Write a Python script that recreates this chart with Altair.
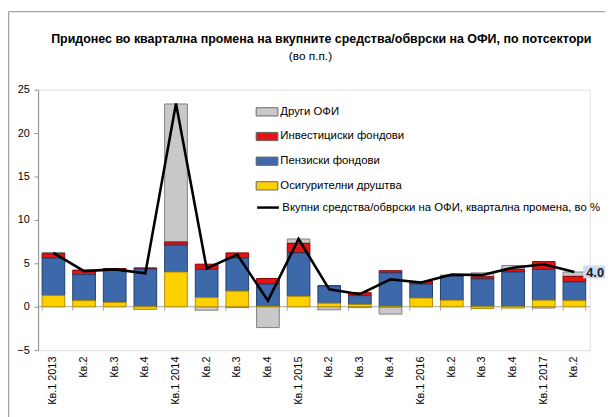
import altair as alt
import pandas as pd

quarters = ["Кв.1 2013", "Кв.2 ", "Кв.3 ", "Кв.4 ",
            "Кв.1 2014", "Кв.2  ", "Кв.3  ", "Кв.4  ",
            "Кв.1 2015", "Кв.2   ", "Кв.3   ", "Кв.4   ",
            "Кв.1 2016", "Кв.2    ", "Кв.3    ", "Кв.4    ",
            "Кв.1 2017", "Кв.2     "]

insurance = [1.3, 0.7, 0.5, -0.3, 4.0, 1.05, 1.8, 0.05, 1.2, 0.4, 0.27, 0.0, 1.0, 0.75, -0.2, -0.15, 0.75, 0.7]
pension = [4.3, 3.0, 3.8, 4.35, 3.1, 3.25, 3.8, 2.55, 5.0, 2.0, 1.0, 3.9, 1.6, 2.75, 3.2, 4.0, 3.55, 2.15]
invest = [0.5, 0.5, 0.1, 0.1, 0.35, 0.6, 0.6, 0.65, 1.1, 0.0, 0.35, 0.25, 0.3, 0.0, 0.25, 0.3, 0.9, 0.65]
other = [0.15, 0.0, 0.0, 0.0, 15.9, -0.4, -0.1, -2.4, 0.5, -0.35, -0.1, -0.85, 0.0, 0.15, 0.45, 0.45, -0.15, 0.5]
total = [6.2, 4.1, 4.3, 3.85, 23.4, 4.4, 6.0, 0.7, 7.8, 2.0, 1.45, 3.15, 2.8, 3.7, 3.65, 4.5, 4.9, 4.0]

series_names = ["Други ОФИ", "Инвестициски фондови", "Пензиски фондови", "Осигурителни друштва"]
series_fill = ["#c9c9c9", "#e41414", "#3d69ab", "#ffd000"]
series_stroke = ["#808080", "#8c0000", "#1f3f6e", "#b08c00"]
series_order = [3, 2, 1, 0]
line_name = "Вкупни средства/обврски на ОФИ, квартална промена, во %"
title_text = "Придонес во квартална промена на вкупните средства/обврски на ОФИ, по потсектори"
subtitle_text = "(во п.п.)"

rows = []
for i, q in enumerate(quarters):
    for name, vals, o in zip(series_names, [other, invest, pension, insurance], series_order):
        rows.append({"q": q, "series": name, "value": vals[i], "ord": o})
bars_df = pd.DataFrame(rows)
line_df = pd.DataFrame({"q": quarters, "total": total, "name": line_name})
last_df = line_df.tail(1)

W, H = 559, 264
FONT = "Liberation Sans"

xscale = alt.Scale(domain=quarters, paddingInner=0.26, paddingOuter=0.13)
yscale = alt.Scale(domain=[-5, 25], nice=False, zero=False)

bars = alt.Chart(bars_df).mark_bar(strokeWidth=1).encode(
    x=alt.X("q:N", scale=xscale, sort=quarters, title=None,
            axis=alt.Axis(orient="bottom", domain=False, ticks=False, labelAngle=-90,
                          labelPadding=6, labelFont=FONT, labelFontSize=11, labelColor="#000000",
                          grid=False)),
    y=alt.Y("value:Q", scale=yscale, stack="zero", title=None,
            axis=alt.Axis(values=[-5, 0, 5, 10, 15, 20, 25], tickSize=4, labelPadding=5,
                          domainColor="#8c8c8c", tickColor="#8c8c8c", grid=False,
                          labelFont=FONT, labelFontSize=11, labelColor="#000000")),
    fill=alt.Fill("series:N", scale=alt.Scale(domain=series_names, range=series_fill),
                  legend=alt.Legend(title=None, orient="none", legendX=220.5, legendY=11,
                                    symbolType="M-1,-0.38L1,-0.38L1,0.38L-1,0.38Z",
                                    symbolSize=484, symbolStrokeWidth=1, symbolStrokeColor="#666666",
                                    rowPadding=7, labelOffset=2, padding=0,
                                    labelFont=FONT, labelFontSize=11.5, labelColor="#000000",
                                    labelLimit=400)),
    stroke=alt.Stroke("series:N", scale=alt.Scale(domain=series_names, range=series_stroke), legend=None),
    order=alt.Order("ord:Q"),
)

# zero line with category boundary ticks
zero_line = alt.Chart(pd.DataFrame({"z": [0]})).mark_rule(color="#a6a6a6", strokeWidth=1).encode(
    x=alt.value(0), x2=alt.value(W), y=alt.Y("z:Q", scale=yscale))
ticks_df = pd.DataFrame({"q": quarters, "z": 0.0, "z2": -0.45})
zero_ticks = alt.Chart(ticks_df).mark_rule(color="#a6a6a6", strokeWidth=1).encode(
    x=alt.X("q:N", scale=xscale, sort=quarters, bandPosition=0),
    y=alt.Y("z:Q", scale=yscale), y2="z2:Q")
zero_tick_end = alt.Chart(ticks_df.tail(1)).mark_rule(color="#a6a6a6", strokeWidth=1).encode(
    x=alt.X("q:N", scale=xscale, sort=quarters, bandPosition=1),
    y=alt.Y("z:Q", scale=yscale), y2="z2:Q")

line = alt.Chart(line_df).mark_line(strokeWidth=2.6).encode(
    x=alt.X("q:N", scale=xscale, sort=quarters),
    y=alt.Y("total:Q", scale=yscale),
    stroke=alt.Stroke("name:N", scale=alt.Scale(domain=[line_name], range=["#000000"]),
                      legend=alt.Legend(title=None, orient="none", legendX=220.5, legendY=107,
                                        symbolType="stroke", symbolSize=484, symbolStrokeWidth=2.5,
                                        labelOffset=2, padding=0,
                                        labelFont=FONT, labelFontSize=11.5, labelColor="#000000",
                                        labelLimit=400)),
)

box = alt.Chart(last_df).mark_point(
    shape="M-1,-0.54L1,-0.54L1,0.54L-1,0.54Z", size=576, filled=True,
    fill="#c8dbf2", opacity=1, strokeWidth=0, xOffset=21
).encode(x=alt.X("q:N", scale=xscale, sort=quarters), y=alt.Y("total:Q", scale=yscale))

label = alt.Chart(last_df).mark_text(
    dx=21, dy=1, font=FONT, fontSize=13, fontWeight="bold", color="#1a1a1a"
).encode(x=alt.X("q:N", scale=xscale, sort=quarters), y=alt.Y("total:Q", scale=yscale),
         text=alt.Text("total:Q", format=".1f"))

one = pd.DataFrame({"k": [0]})
frame_left = alt.Chart(one).mark_rule(color="#8c8c8c", strokeWidth=1).encode(
    x=alt.value(-29.8), y=alt.value(-79), y2=alt.value(H + 70))
frame_top = alt.Chart(one).mark_rule(color="#8c8c8c", strokeWidth=1).encode(
    x=alt.value(-29.8), x2=alt.value(W + 20), y=alt.value(-79))

title = alt.Chart(one).mark_text(font=FONT, fontSize=12.6, fontWeight="bold", color="#000000",
                                 align="center", baseline="middle").encode(
    x=alt.value(287), y=alt.value(-51), text=alt.value(title_text))
subtitle = alt.Chart(one).mark_text(font=FONT, fontSize=12, color="#000000",
                                    align="center", baseline="middle").encode(
    x=alt.value(276), y=alt.value(-34), text=alt.value(subtitle_text))

chart = alt.layer(zero_line, zero_ticks, zero_tick_end, bars, line, box, label,
                  frame_left, frame_top, title, subtitle).resolve_scale(
    stroke="independent"
).properties(
    width=W, height=H,
    autosize=alt.AutoSizeParams(type="none"),
    padding={"left": 30.5, "top": 80, "right": 15.5, "bottom": 65},
).configure_view(stroke=None).configure(background="#ffffff")

chart.save("out.html", embed_options={"renderer": "svg", "actions": False})
